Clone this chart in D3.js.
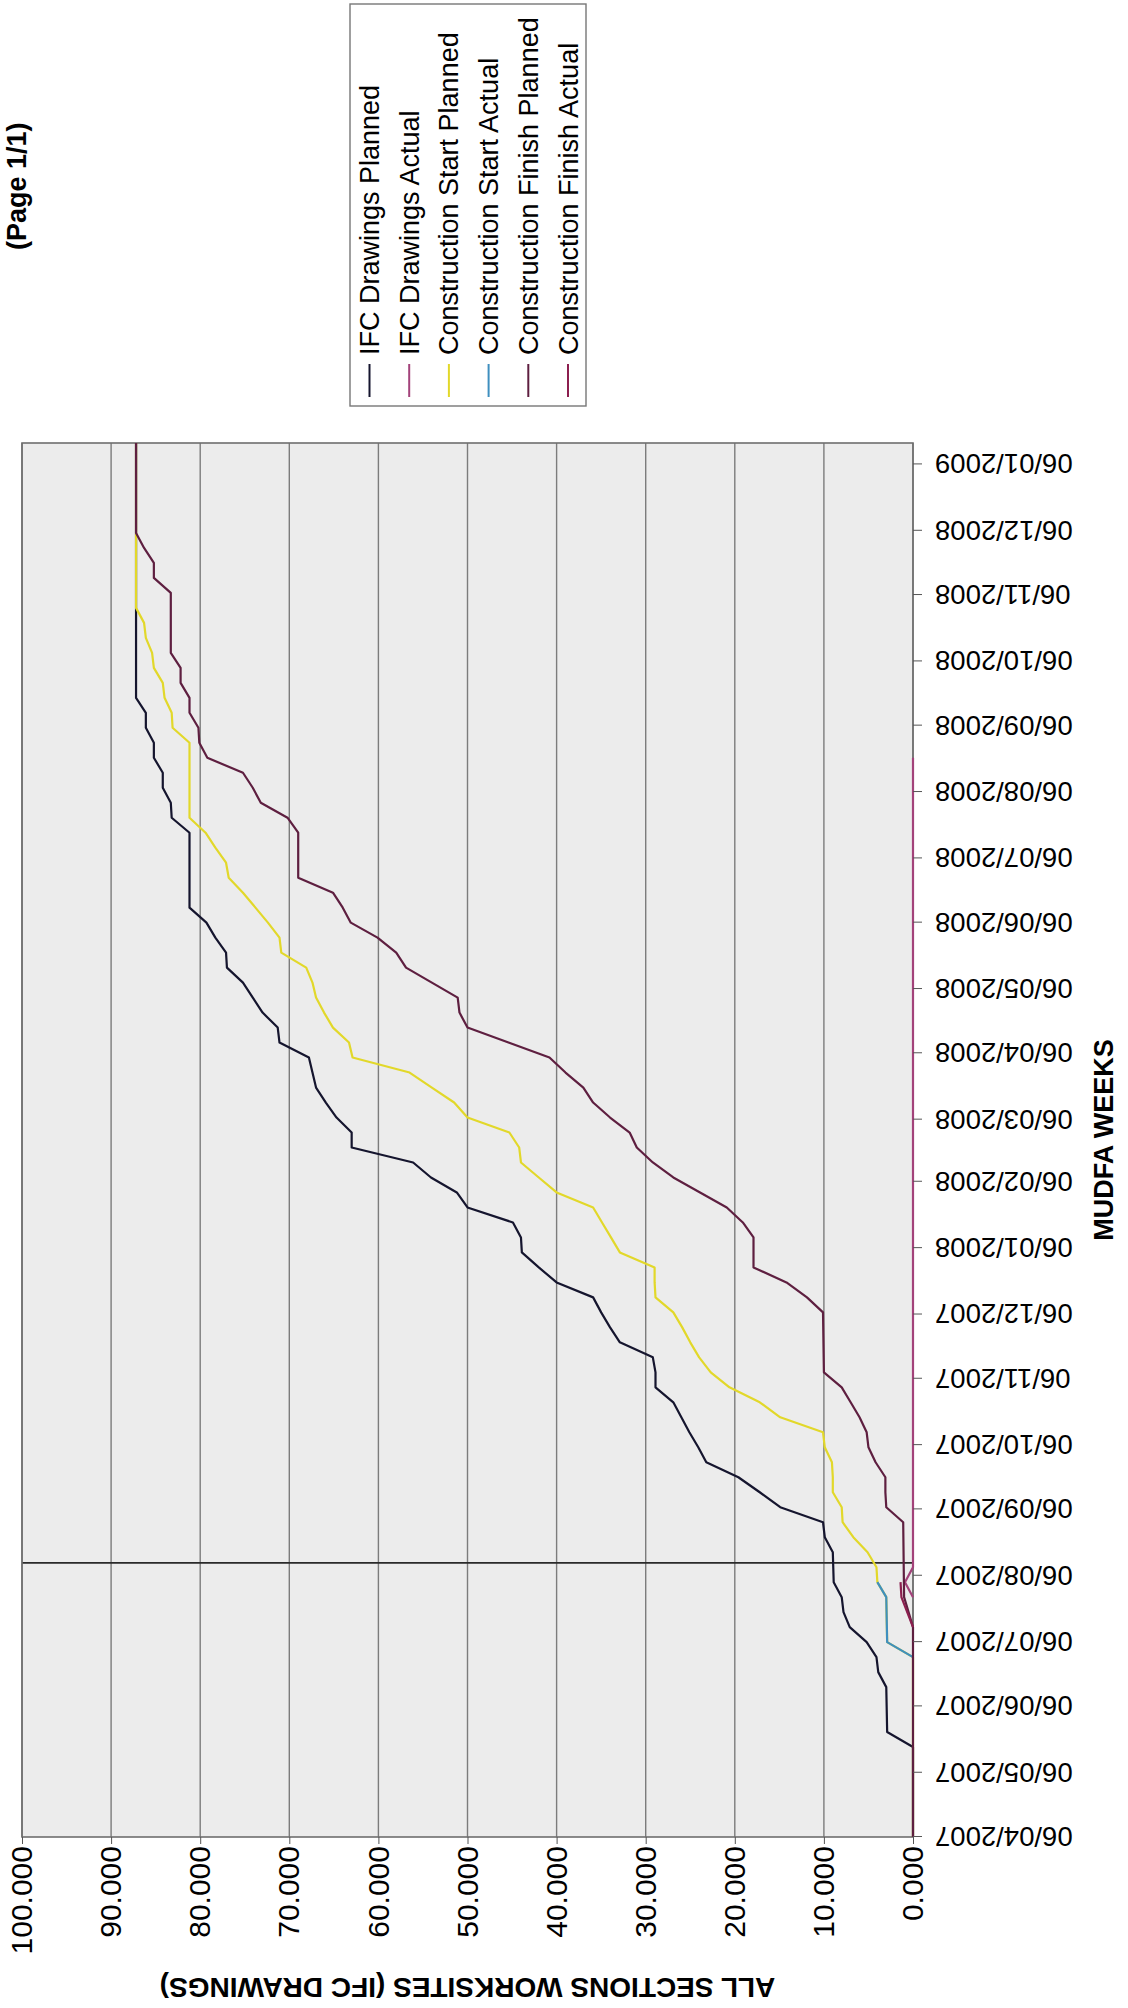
<!DOCTYPE html>
<html>
<head>
<meta charset="utf-8">
<script src="https://cdn.jsdelivr.net/npm/d3@7"></script>
<style>
  html, body { margin: 0; padding: 0; background: #fff; }
  svg { display: block; }
  text { font-family: 'Liberation Sans', Arial, sans-serif; }
</style>
</head>
<body>
<svg id="chart" width="1128" height="2008"></svg>
<script>
// weekly cumulative worksites (dates are week endings)
const IFC_PLANNED = [
    ['2007-04-06', 0], ['2007-05-18', 0], ['2007-05-25', 2.9], ['2007-06-15', 3.0], ['2007-06-22', 3.9],
    ['2007-06-29', 4.1], ['2007-07-06', 5.2], ['2007-07-13', 7.1], ['2007-07-20', 7.8], ['2007-07-27', 8.0],
    ['2007-08-03', 8.9], ['2007-08-17', 9.0], ['2007-08-24', 9.9], ['2007-08-31', 10.1], ['2007-09-07', 14.9],
    ['2007-09-14', 17.2], ['2007-09-21', 19.6], ['2007-09-28', 23.2], ['2007-10-05', 24.1], ['2007-10-12', 25.1],
    ['2007-10-19', 26.0], ['2007-10-26', 26.9], ['2007-11-02', 28.9], ['2007-11-09', 28.9], ['2007-11-16', 29.2],
    ['2007-11-23', 32.9], ['2007-11-30', 34.0], ['2007-12-07', 35.0], ['2007-12-14', 35.9], ['2007-12-21', 40.0],
    ['2007-12-28', 42.0], ['2008-01-04', 43.9], ['2008-01-11', 44.0], ['2008-01-18', 44.9], ['2008-01-25', 50.0],
    ['2008-02-01', 51.2], ['2008-02-08', 54.1], ['2008-02-15', 56.1], ['2008-02-22', 63.0], ['2008-02-29', 63.0],
    ['2008-03-07', 64.7], ['2008-03-14', 65.9], ['2008-03-21', 67.0], ['2008-03-28', 67.4], ['2008-04-04', 67.8],
    ['2008-04-11', 71.1], ['2008-04-18', 71.3], ['2008-04-25', 73.0], ['2008-05-02', 74.1], ['2008-05-09', 75.2],
    ['2008-05-16', 77.0], ['2008-05-23', 77.1], ['2008-05-30', 78.3], ['2008-06-06', 79.3], ['2008-06-13', 81.2],
    ['2008-07-18', 81.2], ['2008-07-25', 83.2], ['2008-08-01', 83.3], ['2008-08-08', 84.2], ['2008-08-15', 84.2],
    ['2008-08-22', 85.2], ['2008-08-29', 85.2], ['2008-09-05', 86.1], ['2008-09-12', 86.1], ['2008-09-19', 87.2],
    ['2009-01-16', 87.2],
];

const IFC_ACTUAL = [
    ['2007-07-27', 0], ['2007-08-03', 0.9], ['2007-08-10', 0], ['2008-08-22', 0],
];

const START_PLANNED = [
    ['2007-04-06', 0], ['2007-06-29', 0], ['2007-07-06', 2.9], ['2007-07-27', 3.0], ['2007-08-03', 4.0],
    ['2007-08-10', 4.1], ['2007-08-17', 5.1], ['2007-08-24', 6.7], ['2007-08-31', 7.9], ['2007-09-07', 8.0],
    ['2007-09-14', 9.0], ['2007-09-21', 9.0], ['2007-09-28', 9.1], ['2007-10-05', 9.9], ['2007-10-12', 10.1],
    ['2007-10-19', 14.9], ['2007-10-26', 17.2], ['2007-11-02', 20.6], ['2007-11-09', 22.7], ['2007-11-16', 24.0],
    ['2007-11-23', 25.0], ['2007-11-30', 25.9], ['2007-12-07', 26.9], ['2007-12-14', 28.9], ['2007-12-21', 29.0],
    ['2007-12-28', 29.0], ['2008-01-04', 32.9], ['2008-01-11', 33.9], ['2008-01-18', 34.9], ['2008-01-25', 35.9],
    ['2008-02-01', 40.0], ['2008-02-08', 42.0], ['2008-02-15', 44.0], ['2008-02-22', 44.2], ['2008-02-29', 45.3],
    ['2008-03-07', 50.0], ['2008-03-14', 51.5], ['2008-03-21', 54.0], ['2008-03-28', 56.5], ['2008-04-04', 62.9],
    ['2008-04-11', 63.3], ['2008-04-18', 65.1], ['2008-04-25', 66.1], ['2008-05-02', 67.0], ['2008-05-09', 67.4],
    ['2008-05-16', 68.1], ['2008-05-23', 70.9], ['2008-05-30', 71.1], ['2008-06-06', 72.4], ['2008-06-13', 73.8],
    ['2008-06-20', 75.2], ['2008-06-27', 76.8], ['2008-07-04', 77.1], ['2008-07-11', 78.3], ['2008-07-18', 79.4],
    ['2008-07-25', 81.2], ['2008-08-29', 81.2], ['2008-09-05', 83.1], ['2008-09-12', 83.2], ['2008-09-19', 84.0],
    ['2008-09-26', 84.2], ['2008-10-03', 85.2], ['2008-10-10', 85.4], ['2008-10-17', 86.1], ['2008-10-24', 86.3],
    ['2008-10-31', 87.2], ['2009-01-16', 87.2],
];

const START_ACTUAL = [
    ['2007-06-29', 0], ['2007-07-06', 2.9], ['2007-07-27', 3.0], ['2007-08-03', 4.0],
];

const FINISH_PLANNED = [
    ['2007-04-06', 0], ['2007-07-13', 0], ['2007-07-27', 1.0], ['2007-08-31', 1.1], ['2007-09-07', 3.0],
    ['2007-09-14', 3.1], ['2007-09-21', 3.1], ['2007-09-28', 4.2], ['2007-10-05', 5.0], ['2007-10-12', 5.2],
    ['2007-10-19', 6.0], ['2007-10-26', 7.0], ['2007-11-02', 8.0], ['2007-11-09', 10.0], ['2007-12-07', 10.1],
    ['2007-12-14', 11.9], ['2007-12-21', 14.2], ['2007-12-28', 17.9], ['2008-01-11', 17.9], ['2008-01-18', 19.1],
    ['2008-01-25', 20.9], ['2008-02-01', 23.9], ['2008-02-08', 26.9], ['2008-02-15', 29.2], ['2008-02-22', 31.0],
    ['2008-02-29', 31.8], ['2008-03-07', 34.0], ['2008-03-14', 35.9], ['2008-03-21', 37.0], ['2008-03-28', 39.0],
    ['2008-04-04', 40.8], ['2008-04-11', 45.4], ['2008-04-18', 50.0], ['2008-04-25', 50.9], ['2008-05-02', 51.1],
    ['2008-05-09', 54.0], ['2008-05-16', 56.9], ['2008-05-23', 58.0], ['2008-05-30', 60.1], ['2008-06-06', 63.1],
    ['2008-06-13', 64.0], ['2008-06-20', 65.1], ['2008-06-27', 69.0], ['2008-07-18', 69.0], ['2008-07-25', 70.2],
    ['2008-08-01', 73.2], ['2008-08-08', 74.1], ['2008-08-15', 75.2], ['2008-08-22', 79.2], ['2008-08-29', 80.1],
    ['2008-09-05', 80.2], ['2008-09-12', 81.2], ['2008-09-19', 81.2], ['2008-09-26', 82.2], ['2008-10-03', 82.2],
    ['2008-10-10', 83.3], ['2008-11-07', 83.3], ['2008-11-14', 85.2], ['2008-11-21', 85.2], ['2008-11-28', 86.3],
    ['2008-12-05', 87.2], ['2009-01-16', 87.2],
];

const FINISH_ACTUAL = [
    ['2007-07-13', 0], ['2007-07-27', 1.3], ['2007-08-03', 1.4],
];

const SERIES_NAMES = [
    'IFC Drawings Planned',
    'IFC Drawings Actual',
    'Construction Start Planned',
    'Construction Start Actual',
    'Construction Finish Planned',
    'Construction Finish Actual',
];
const SERIES_DATA = [IFC_PLANNED, IFC_ACTUAL, START_PLANNED, START_ACTUAL, FINISH_PLANNED, FINISH_ACTUAL];
const SERIES_COLORS = ['#15152e', '#a3427a', '#e2d82a', '#3f8fbf', '#5e1f40', '#8c1f4f'];

// axis ticks
const VALUE_TICKS = [0, 10, 20, 30, 40, 50, 60, 70, 80, 90, 100];
const DATE_TICKS = [
    '2007-04-06', '2007-05-06', '2007-06-06', '2007-07-06', '2007-08-06', '2007-09-06', '2007-10-06',
    '2007-11-06', '2007-12-06', '2008-01-06', '2008-02-06', '2008-03-06', '2008-04-06', '2008-05-06',
    '2008-06-06', '2008-07-06', '2008-08-06', '2008-09-06', '2008-10-06', '2008-11-06', '2008-12-06',
    '2009-01-06',
];
const DATE_START = '2007-04-06';
const DATE_END = '2009-01-16';
const TODAY = '2007-08-12';

// page is portrait, chart is drawn landscape and turned a quarter turn
const PAGE_H = 2008;
const PLOT = { left: 171, right: 1565, top: 22, bottom: 913 };

const parseDate = d3.utcParse('%Y-%m-%d');

const X_SCALE = d3.scaleUtc()
    .domain([parseDate(DATE_START), parseDate(DATE_END)])
    .range([PLOT.left, PLOT.right]);

const Y_SCALE = d3.scaleLinear()
    .domain([0, 100])
    .range([PLOT.bottom, PLOT.top]);

const SVG = d3.select('#chart');
const ROOT = SVG.append('g')
    .attr('transform', `translate(0, ${PAGE_H}) rotate(-90)`);

// plot area
ROOT.append('rect')
    .attr('x', PLOT.left)
    .attr('y', PLOT.top)
    .attr('width', PLOT.right - PLOT.left)
    .attr('height', PLOT.bottom - PLOT.top)
    .attr('fill', '#ececec');

// gridlines
ROOT.append('g')
    .selectAll('line')
    .data(VALUE_TICKS)
    .join('line')
    .attr('x1', PLOT.left)
    .attr('x2', PLOT.right)
    .attr('y1', d => Y_SCALE(d))
    .attr('y2', d => Y_SCALE(d))
    .attr('stroke', '#7c7c7c')
    .attr('stroke-width', 1.4);

// current week marker
ROOT.append('line')
    .attr('x1', X_SCALE(parseDate(TODAY)))
    .attr('x2', X_SCALE(parseDate(TODAY)))
    .attr('y1', PLOT.top)
    .attr('y2', PLOT.bottom)
    .attr('stroke', '#2a2a2a')
    .attr('stroke-width', 1.6);

// border
ROOT.append('rect')
    .attr('x', PLOT.left)
    .attr('y', PLOT.top)
    .attr('width', PLOT.right - PLOT.left)
    .attr('height', PLOT.bottom - PLOT.top)
    .attr('fill', 'none')
    .attr('stroke', '#6e6e6e')
    .attr('stroke-width', 1.6);

// series
const LINE = d3.line()
    .x(d => X_SCALE(parseDate(d[0])))
    .y(d => Y_SCALE(d[1]));

ROOT.append('g')
    .selectAll('path')
    .data(SERIES_DATA)
    .join('path')
    .attr('d', d => LINE(d))
    .attr('fill', 'none')
    .attr('stroke', (d, i) => SERIES_COLORS[i])
    .attr('stroke-width', 2.2)
    .attr('stroke-linejoin', 'round');

// value axis
const Y_AXIS = d3.axisLeft(Y_SCALE)
    .tickValues(VALUE_TICKS)
    .tickFormat(d3.format('.3f'))
    .tickSize(7)
    .tickPadding(2);

const Y_AXIS_G = ROOT.append('g')
    .attr('transform', `translate(${PLOT.left}, 0)`)
    .call(Y_AXIS);
Y_AXIS_G.select('.domain').remove();
Y_AXIS_G.selectAll('line').attr('stroke', '#555');
Y_AXIS_G.selectAll('text')
    .attr('fill', '#000')
    .style('font-family', "'Liberation Sans', Arial, sans-serif")
    .style('font-size', '30px');

// date axis
const X_AXIS = d3.axisBottom(X_SCALE)
    .tickValues(DATE_TICKS.map(parseDate))
    .tickFormat(d3.utcFormat('%d/%m/%Y'))
    .tickSize(9);

const X_AXIS_G = ROOT.append('g')
    .attr('transform', `translate(0, ${PLOT.bottom})`)
    .call(X_AXIS);
X_AXIS_G.select('.domain').remove();
X_AXIS_G.selectAll('line').attr('stroke', '#555');
X_AXIS_G.selectAll('text')
    .attr('transform', 'rotate(-90)')
    .attr('x', -22)
    .attr('y', 0)
    .attr('dy', '0.35em')
    .attr('text-anchor', 'end')
    .attr('fill', '#000')
    .style('font-family', "'Liberation Sans', Arial, sans-serif")
    .style('font-size', '27.5px');

// titles
ROOT.append('text')
    .attr('x', (PLOT.left + PLOT.right) / 2)
    .attr('y', 1113)
    .attr('text-anchor', 'middle')
    .style('font-size', '27px')
    .style('font-weight', 'bold')
    .text('MUDFA WEEKS');

ROOT.append('text')
    .attr('transform', `translate(30, ${(PLOT.top + PLOT.bottom) / 2}) rotate(-90)`)
    .attr('text-anchor', 'middle')
    .style('font-size', '28px')
    .style('font-weight', 'bold')
    .text('ALL SECTIONS WORKSITES (IFC DRAWINGS)');

ROOT.append('text')
    .attr('x', 1758)
    .attr('y', 26)
    .style('font-size', '27px')
    .style('font-weight', 'bold')
    .text('(Page 1/1)');

// legend
const LEGEND_X = 1602, LEGEND_Y = 350, LEGEND_W = 402, LEGEND_H = 236;
const ROW_FIRST = 379, ROW_STEP = 39.7;

const LEGEND_G = ROOT.append('g');
LEGEND_G.append('rect')
    .attr('x', LEGEND_X)
    .attr('y', LEGEND_Y)
    .attr('width', LEGEND_W)
    .attr('height', LEGEND_H)
    .attr('fill', '#fff')
    .attr('stroke', '#777')
    .attr('stroke-width', 1.4);

SERIES_NAMES.forEach((name, i) => {
    const y = ROW_FIRST + ROW_STEP * i;
    LEGEND_G.append('line')
        .attr('x1', LEGEND_X + 9)
        .attr('x2', LEGEND_X + 42)
        .attr('y1', y - 9.5)
        .attr('y2', y - 9.5)
        .attr('stroke', SERIES_COLORS[i])
        .attr('stroke-width', 2);
    LEGEND_G.append('text')
        .attr('x', LEGEND_X + 51)
        .attr('y', y)
        .style('font-size', '27px')
        .text(name);
});
</script>
</body>
</html>
